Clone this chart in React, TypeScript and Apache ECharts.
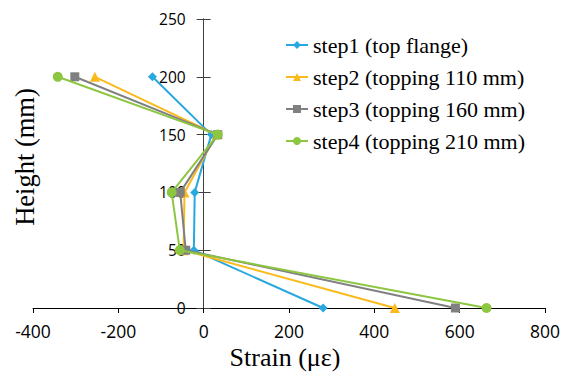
import React, { useEffect, useRef } from "react";
import * as echarts from "echarts";

const heights = [0, 50, 100, 150, 200];
const step1 = [280, -23, -21, 18, -120];
const step2 = [448, -47, -45, 30, -255];
const step3 = [590, -42, -55, 33, -302];
const step4 = [663, -56, -75, 33, -342];
const seriesNames = [
  "step1 (top flange)",
  "step2 (topping 110 mm)",
  "step3 (topping 160 mm)",
  "step4 (topping 210 mm)",
];
const seriesValues = [step1, step2, step3, step4];
const colors = ["#29A8E0", "#FBBA1B", "#808080", "#8DC641"];
const symbols = ["diamond", "triangle", "rect", "circle"];
const symbolSizes = [9, 10, 9, 10];

const X_MIN = -400;
const X_MAX = 800;
const GRID_LEFT = 33;
const GRID_RIGHT = 19;
const GRID_TOP = 19;
const GRID_BOTTOM = 64;
const WIDTH = 564;

export default function App() {
  const ref = useRef<HTMLDivElement>(null);
  useEffect(() => {
    const chart = echarts.init(ref.current!, null, { renderer: "svg" });
    const sansFont = "'Open Sans', 'Liberation Sans', sans-serif";
    const serifFont = "'Liberation Serif', 'DejaVu Serif', serif";
    const plotW = WIDTH - GRID_LEFT - GRID_RIGHT;
    const zeroLeft = GRID_LEFT + ((0 - X_MIN) / (X_MAX - X_MIN)) * plotW;
    const yBase = {
      type: "value",
      min: 0,
      max: 250,
      interval: 50,
      splitLine: { show: false },
    };
    chart.setOption({
      animation: false,
      grid: [
        {
          left: GRID_LEFT,
          right: GRID_RIGHT,
          top: GRID_TOP,
          bottom: GRID_BOTTOM,
          containLabel: false,
          outerBoundsMode: "none",
        },
        {
          left: zeroLeft,
          right: GRID_RIGHT,
          top: GRID_TOP,
          bottom: GRID_BOTTOM,
          containLabel: false,
          outerBoundsMode: "none",
        },
      ],
      legend: {
        orient: "vertical",
        left: 280,
        top: 29,
        itemWidth: 22,
        itemHeight: 10,
        itemGap: 10,
        data: seriesNames,
        textStyle: { fontFamily: serifFont, fontSize: 22, color: "#000" },
      },
      xAxis: [
        {
          type: "value",
          gridIndex: 0,
          min: X_MIN,
          max: X_MAX,
          interval: 200,
          splitLine: { show: false },
          axisLine: { onZero: false, lineStyle: { color: "#000", width: 1 } },
          axisTick: { show: true, length: 5, lineStyle: { color: "#000" } },
          axisLabel: { fontFamily: sansFont, fontSize: 17.5, color: "#000", margin: 14 },
        },
        {
          type: "value",
          gridIndex: 1,
          min: 0,
          max: X_MAX,
          show: false,
        },
      ],
      yAxis: [
        {
          ...yBase,
          gridIndex: 0,
          axisLine: { onZero: true, onZeroAxisIndex: 0, lineStyle: { color: "#404040", width: 1 } },
          axisTick: { show: true, length: 7, lineStyle: { color: "#404040" } },
          axisLabel: { show: false },
        },
        {
          ...yBase,
          gridIndex: 0,
          position: "left",
          axisLine: { onZero: true, onZeroAxisIndex: 0, lineStyle: { color: "#404040", width: 1 } },
          axisTick: { show: true, inside: true, length: 7, lineStyle: { color: "#404040" } },
          axisLabel: { show: false },
        },
        {
          ...yBase,
          gridIndex: 1,
          position: "left",
          axisLine: { show: false, onZero: false },
          axisTick: { show: false },
          axisLabel: { fontFamily: sansFont, fontSize: 15.5, color: "#000", margin: 18 },
        },
      ],
      series: seriesNames.map((name, i) => ({
        name,
        type: "line",
        xAxisIndex: 0,
        yAxisIndex: 0,
        data: heights.map((h, j) => [seriesValues[i][j], h]),
        color: colors[i],
        symbol: symbols[i],
        symbolSize: symbolSizes[i],
        showAllSymbol: true,
        lineStyle: { width: 2, color: colors[i] },
        itemStyle: { color: colors[i] },
        z: 2 + i,
      })),
      graphic: [
        {
          type: "text",
          x: 25,
          y: 157,
          rotation: Math.PI / 2,
          style: {
            text: "Height (mm)",
            font: `26.5px ${serifFont}`,
            fill: "#000",
            align: "center",
            verticalAlign: "middle",
          },
        },
        {
          type: "text",
          x: 285,
          y: 357,
          style: {
            text: "Strain (με)",
            font: `26px ${serifFont}`,
            fill: "#000",
            align: "center",
            verticalAlign: "middle",
          },
        },
      ],
    });
    return () => chart.dispose();
  }, []);
  return <div ref={ref} style={{ width: 564, height: 372, position: "absolute", left: 0, top: 0 }} />;
}
